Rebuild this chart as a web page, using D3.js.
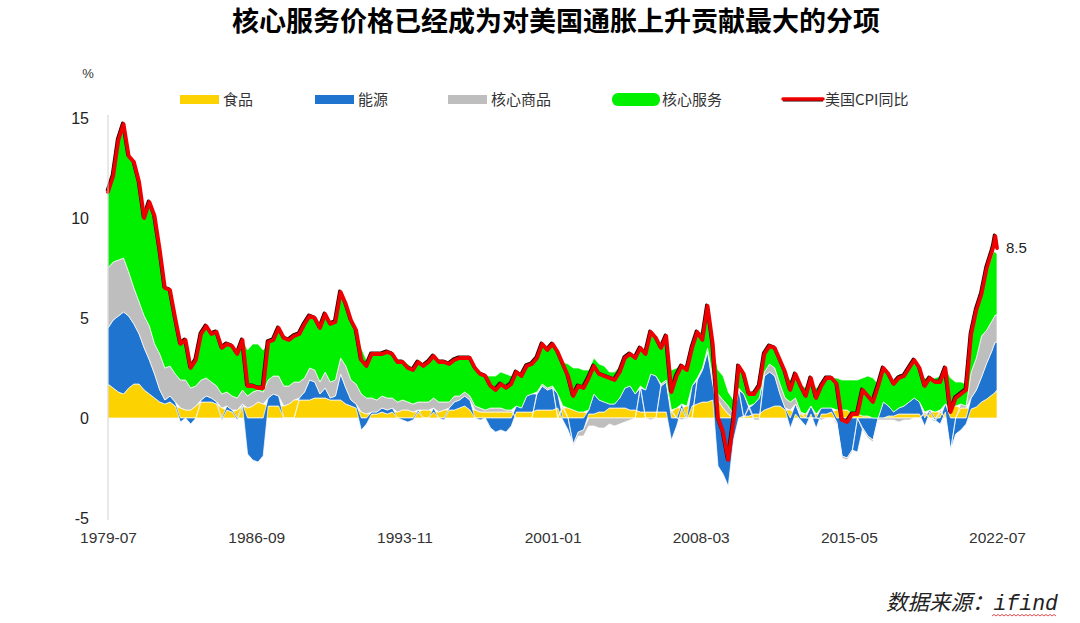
<!DOCTYPE html>
<html><head><meta charset="utf-8">
<script src="https://cdn.jsdelivr.net/npm/d3@7/dist/d3.min.js"></script>
<style>
html,body{margin:0;padding:0;background:#fff;}
svg{display:block;}
</style></head>
<body>
<svg id="chart" width="1080" height="623"></svg>
<script>
// ---------- DATA (quarterly Jan/Apr/Jul/Oct from 1979-07, monthly at the end of 2022) ----------
const seriesNames = ["食品", "能源", "核心商品", "核心服务"];
const lineName = "美国CPI同比";
const xTickLabels = ["1979-07","1986-09","1993-11","2001-01","2008-03","2015-05","2022-07"];
const yTickValues = [15, 10, 5, 0, -5];
const lastLabel = "8.5";

const cpi = [
 11.3,12.1,
 13.9,14.7,13.1,12.8, 11.8,10.0,10.8,10.1, 8.4,6.5,6.4,5.0, 3.7,3.9,2.5,2.9, 4.2,4.6,4.2,4.3,
 3.5,3.7,3.6,3.2, 3.9,1.6,1.6,1.5, 1.5,3.8,3.9,4.5, 4.0,3.9,4.1,4.2, 4.7,5.1,5.0,4.5,
 5.2,4.7,4.8,6.3, 5.7,4.9,4.4,2.9, 2.6,3.2,3.2,3.2, 3.3,3.2,2.8,2.8, 2.5,2.4,2.8,2.6,
 2.8,3.1,2.8,2.8, 2.7,2.9,3.0,3.0, 3.0,2.5,2.2,2.1, 1.6,1.4,1.7,1.5, 1.7,2.3,2.1,2.6,
 2.7,3.0,3.7,3.4, 3.7,3.3,2.7,2.1, 1.1,1.6,1.5,2.0, 2.6,2.2,2.1,2.0, 1.9,2.3,3.0,3.2,
 3.0,3.5,3.2,4.3, 4.0,3.5,4.1,1.3, 2.1,2.6,2.4,3.5, 4.3,3.9,5.6,3.7, 0.0,-0.7,-2.1,-0.2,
 2.6,2.2,1.2,1.2, 1.6,3.2,3.6,3.5, 2.9,2.3,1.4,2.2, 1.6,1.1,2.0,1.0, 1.6,2.0,2.0,1.7,
 -0.1,-0.2,0.2,0.2, 1.4,1.1,0.8,1.6, 2.5,2.2,1.7,2.0, 2.1,2.5,2.9,2.5, 1.6,2.0,1.8,1.8,
 2.5,0.3,1.0,1.2, 1.4,4.2,5.4,6.2,
 7.5,8.3,8.6,9.1,8.5
];
const food = [
 1.7,1.5,
 1.3,1.2,1.5,1.7, 1.7,1.4,1.2,1.0, 0.8,0.7,0.8,0.6, 0.5,0.4,0.4,0.6, 0.8,0.8,0.8,0.7,
 0.5,0.4,0.3,0.4, 0.6,0.5,0.6,0.8, 0.7,0.6,0.6,0.6, 0.6,0.7,0.9,0.9, 0.9,0.9,1.0,1.0,
 1.0,0.9,0.9,0.9, 0.7,0.6,0.5,0.3, 0.2,0.2,0.2,0.3, 0.2,0.3,0.3,0.4, 0.4,0.3,0.3,0.4,
 0.4,0.3,0.3,0.4, 0.4,0.4,0.5,0.6, 0.4,0.4,0.3,0.3, 0.3,0.3,0.3,0.3, 0.3,0.3,0.3,0.3,
 0.3,0.4,0.4,0.4, 0.4,0.5,0.5,0.5, 0.4,0.3,0.3,0.2, 0.2,0.3,0.3,0.5, 0.5,0.5,0.5,0.4,
 0.4,0.3,0.3,0.3, 0.3,0.3,0.3,0.3, 0.5,0.5,0.6,0.6, 0.7,0.8,0.8,0.9, 0.9,0.5,0.2,0.0,
 0.0,0.1,0.1,0.2, 0.2,0.4,0.5,0.6, 0.6,0.4,0.4,0.2, 0.2,0.2,0.2,0.2, 0.2,0.2,0.3,0.4,
 0.4,0.4,0.2,0.2, 0.1,0.1,0.0,0.0, 0.0,0.1,0.1,0.2, 0.2,0.2,0.2,0.2, 0.2,0.3,0.3,0.3,
 0.3,0.5,0.6,0.5, 0.5,0.45,0.55,0.8,
 0.95,1.15,1.2,1.3,1.4
];
const energy = [
 2.8,3.4,
 3.8,4.1,3.6,3.0, 2.5,2.1,1.7,1.2, 0.6,0.2,0.3,0.2, -0.2,0.0,-0.3,0.0, 0.1,0.3,0.2,0.1,
 -0.1,0.2,0.1,-0.1, 0.1,-1.8,-2.1,-2.2, -1.9,0.4,0.6,0.5, 0.0,0.0,0.0,0.1, 0.4,1.0,0.8,0.2,
 0.5,0.1,0.2,1.3, 0.8,0.3,0.2,-0.6, -0.3,0.1,0.1,0.2, 0.2,0.2,0.0,-0.1, -0.2,-0.1,0.1,0.0,
 0.0,0.2,0.0,-0.1, 0.1,0.4,0.4,0.5, 0.5,0.0,-0.1,0.0, -0.5,-0.7,-0.6,-0.7, -0.4,0.3,0.2,0.8,
 0.9,0.8,1.2,1.0, 1.1,0.7,-0.1,-0.6, -1.3,-0.7,-0.6,0.2, 1.0,0.6,0.5,0.2, 0.2,0.5,1.0,1.2,
 0.8,1.2,1.1,1.9, 1.8,1.3,1.5,-1.1, -0.4,0.2,-0.1,1.0, 1.2,1.6,2.5,0.8, -2.4,-2.8,-3.4,-1.1,
 1.4,1.1,0.4,0.5, 0.8,1.7,1.8,1.5, 0.6,0.1,-0.5,0.5, -0.1,-0.4,0.4,-0.5, 0.3,0.3,0.2,-0.2,
 -1.9,-2.0,-1.6,-1.7, -0.5,-0.9,-1.1,0.0, 0.8,0.5,0.2,0.3, 0.4,0.6,0.8,0.6, -0.4,0.1,-0.1,-0.3,
 0.4,-1.6,-0.8,-0.6, -0.3,0.55,0.85,1.25,
 1.8,2.2,2.4,2.5,2.4
];
const coreGoods = [
 3.0,2.9,
 2.8,2.7,2.2,1.8, 1.6,1.6,1.7,1.5, 1.8,1.6,1.5,1.4, 1.4,1.5,1.1,1.0, 1.0,0.9,0.8,0.8,
 0.7,0.7,0.7,0.6, 0.7,0.6,0.7,0.6, 0.6,0.9,0.9,1.0, 1.0,0.9,0.9,0.8, 0.7,0.6,0.6,0.6,
 0.8,0.8,0.8,0.8, 1.1,1.0,1.0,0.9, 0.8,0.7,0.6,0.6, 0.6,0.5,0.5,0.5, 0.4,0.4,0.4,0.4,
 0.4,0.5,0.5,0.4, 0.3,0.3,0.2,0.2, 0.2,0.2,0.2,0.1, 0.2,0.2,0.2,0.1, 0.1,0.0,0.0,0.0,
 0.0,0.1,0.1,0.1, 0.1,0.0,0.1,0.0, -0.1,-0.2,-0.3,-0.4, -0.4,-0.5,-0.5,-0.3, -0.4,-0.3,-0.2,-0.1,
 0.0,0.1,0.0,-0.1, 0.0,0.1,0.1,0.1, 0.0,-0.1,0.0,0.0, 0.1,0.1,0.2,0.3, 0.3,0.4,0.4,0.2,
 0.1,0.0,0.1,-0.1, -0.1,0.2,0.4,0.4, 0.5,0.5,0.4,0.3, 0.1,0.0,0.0,0.0, -0.1,0.0,0.0,-0.1,
 -0.1,-0.1,-0.1,0.0, -0.1,-0.1,-0.1,-0.1, -0.1,-0.1,-0.1,-0.2, -0.1,-0.1,0.0,0.0, 0.1,0.0,-0.1,0.1,
 0.0,-0.1,0.0,0.2, 0.1,1.3,1.6,2.05,
 1.65,1.5,1.4,1.35,1.35
];
const coreServices = [
 3.8,4.3,
 6.0,6.7,5.8,6.3, 6.0,4.9,6.2,6.4, 5.2,4.0,3.8,2.8, 2.0,2.0,1.3,1.3, 2.3,2.6,2.4,2.7,
 2.4,2.4,2.5,2.3, 2.5,2.3,2.4,2.3, 2.1,1.9,1.8,2.4, 2.4,2.3,2.3,2.4, 2.7,2.6,2.6,2.7,
 2.9,2.9,2.9,3.3, 3.1,3.0,2.7,2.3, 1.9,2.2,2.3,2.1, 2.3,2.2,2.0,2.0, 1.9,1.8,2.0,1.8,
 2.0,2.1,2.0,2.1, 1.9,1.8,1.9,1.7, 1.9,1.9,1.8,1.7, 1.6,1.6,1.8,1.8, 1.7,1.7,1.6,1.5,
 1.5,1.7,2.0,1.9, 2.1,2.1,2.2,2.2, 2.1,2.2,2.1,2.0, 1.8,1.8,1.8,1.6, 1.6,1.6,1.7,1.7,
 1.8,1.9,1.8,2.2, 1.9,1.8,2.2,2.0, 2.0,2.0,1.9,1.9, 2.3,1.8,2.1,1.7, 1.2,1.2,0.7,0.7,
 1.1,1.0,0.6,0.6, 0.7,0.9,0.9,1.0, 1.2,1.3,1.1,1.2, 1.4,1.3,1.4,1.3, 1.2,1.5,1.5,1.6,
 1.5,1.5,1.7,1.7, 1.9,2.0,2.0,1.7, 1.8,1.7,1.5,1.7, 1.6,1.8,1.9,1.7, 1.7,1.6,1.7,1.7,
 1.8,1.5,1.2,1.1, 1.1,1.9,2.4,2.1,
 2.9,3.2,3.3,3.15,3.05
];

// ---------- DATES (category axis) ----------
const months = d3.timeMonth.range(new Date(1979,6,1), new Date(2022,4,1), 3)
  .concat([new Date(2022,4,1), new Date(2022,5,1), new Date(2022,6,1)]);

const keys = ["food","energy","goods","services"];
const colors = {food:"#FCD200", energy:"#1F74CF", goods:"#BEBEBE", services:"#00F000"};
const rows = months.map((d,i)=>({date:d, food:food[i], energy:energy[i], goods:coreGoods[i], services:coreServices[i], cpi:cpi[i]}));

const svg = d3.select("#chart");
const x = d3.scaleTime().domain([new Date(1979,6,1), new Date(2022,6,1)]).range([108, 997]);
const y = d3.scaleLinear().domain([-5,15]).range([518,118]);

// title
svg.append("text").attr("x",556).attr("y",31).attr("text-anchor","middle")
  .attr("font-family","'Noto Sans CJK SC','Noto Sans',sans-serif").attr("font-weight",700)
  .attr("font-size",27).attr("fill","#000").text("核心服务价格已经成为对美国通胀上升贡献最大的分项");

// % label
svg.append("text").attr("x",88).attr("y",78).attr("text-anchor","middle")
  .attr("font-family","'Liberation Sans',Arial,sans-serif").attr("font-size",13).attr("fill","#333").text("%");

// stacked areas
const stack = d3.stack().keys(keys).offset(d3.stackOffsetDiverging);
const layers = stack(rows);
const area = d3.area().x(d=>x(d.data.date)).y0(d=>y(d[0])).y1(d=>y(d[1])).curve(d3.curveLinear);
svg.append("g").selectAll("path").data(layers).join("path")
  .attr("d", area).attr("fill", d=>colors[d.key])
  .attr("stroke","#fff").attr("stroke-width",0.7).attr("stroke-linejoin","round");

// CPI line (dark under-edge + red)
const line = d3.line().x(d=>x(d.date)).y(d=>y(d.cpi)).curve(d3.curveLinear);
svg.append("path").datum(rows).attr("d",line).attr("fill","none")
  .attr("stroke","#2a0000").attr("stroke-width",3).attr("transform","translate(-1,-1)")
  .attr("stroke-linejoin","round");
svg.append("path").datum(rows).attr("d",line).attr("fill","none")
  .attr("stroke","#EE0000").attr("stroke-width",3.8).attr("stroke-linejoin","round").attr("stroke-linecap","round");

// last value label
const last = rows[rows.length-1];
svg.append("text").attr("x",x(last.date)+9).attr("y",y(last.cpi)+5)
  .attr("font-family","'Liberation Sans',Arial,sans-serif").attr("font-size",15).attr("fill","#222").text(lastLabel);

// y axis
const yAxis = d3.axisLeft(y).tickValues(yTickValues).tickSize(0).tickPadding(19).tickFormat(d=>String(d));
const gy = svg.append("g").attr("transform","translate(108,0)").call(yAxis);
gy.select(".domain").attr("stroke","#d0d0d0").attr("stroke-width",1).attr("d","M0,115V520");
gy.selectAll("text").attr("font-family","'Liberation Sans',Arial,sans-serif").attr("font-size",16).attr("fill","#222");

// x axis
const parse = d3.timeParse("%Y-%m");
const xAxis = d3.axisBottom(x).tickValues(xTickLabels.map(parse)).tickSize(0).tickFormat(d3.timeFormat("%Y-%m"));
const gx = svg.append("g").attr("transform","translate(0,529)").call(xAxis);
gx.select(".domain").remove();
gx.selectAll("text").attr("font-family","'Liberation Sans',Arial,sans-serif").attr("font-size",15.5).attr("fill","#333");

// legend
const legend = [
  {name:seriesNames[0], type:"rect", color:colors.food, x:180},
  {name:seriesNames[1], type:"rect", color:colors.energy, x:315},
  {name:seriesNames[2], type:"rect", color:colors.goods, x:448},
  {name:seriesNames[3], type:"blob", color:colors.services, x:612},
  {name:lineName, type:"line", color:"#EE0000", x:783}
];
const lg = svg.append("g");
legend.forEach(l=>{
  if(l.type==="rect"){
    lg.append("rect").attr("x",l.x).attr("y",95).attr("width",39).attr("height",9).attr("fill",l.color);
  } else if(l.type==="blob"){
    lg.append("rect").attr("x",l.x).attr("y",93).attr("width",48).attr("height",13).attr("rx",6).attr("fill",l.color);
  } else {
    lg.append("line").attr("x1",l.x).attr("x2",l.x+40).attr("y1",99).attr("y2",99).attr("stroke","#2a0000").attr("stroke-width",3).attr("transform","translate(0,1)");
    lg.append("line").attr("x1",l.x).attr("x2",l.x+40).attr("y1",99).attr("y2",99).attr("stroke",l.color).attr("stroke-width",3.5).attr("stroke-linecap","round");
  }
  const tx = l.type==="blob" ? l.x+50 : l.x+(l.type==="line"?42:43);
  lg.append("text").attr("x",tx).attr("y",105).attr("font-family","'Noto Sans CJK SC','Liberation Sans',sans-serif")
    .attr("font-size",15).attr("fill","#333").text(l.name);
});

// source
const src = svg.append("text").attr("x",886).attr("y",610).attr("font-style","italic").attr("font-size",21.5).attr("fill","#222");
src.append("tspan").attr("font-family","'Noto Sans CJK SC',sans-serif").text("数据来源：");
src.append("tspan").attr("font-family","'Liberation Mono',monospace").text("ifind");
// spell-check squiggle under "ifind"
let sq = "M992,616";
for(let i=0;i<32;i++){ sq += " l2,"+(i%2?1.6:-1.6); }
svg.append("path").attr("d",sq).attr("fill","none").attr("stroke","#e02020").attr("stroke-width",0.8);
</script>
</body></html>
